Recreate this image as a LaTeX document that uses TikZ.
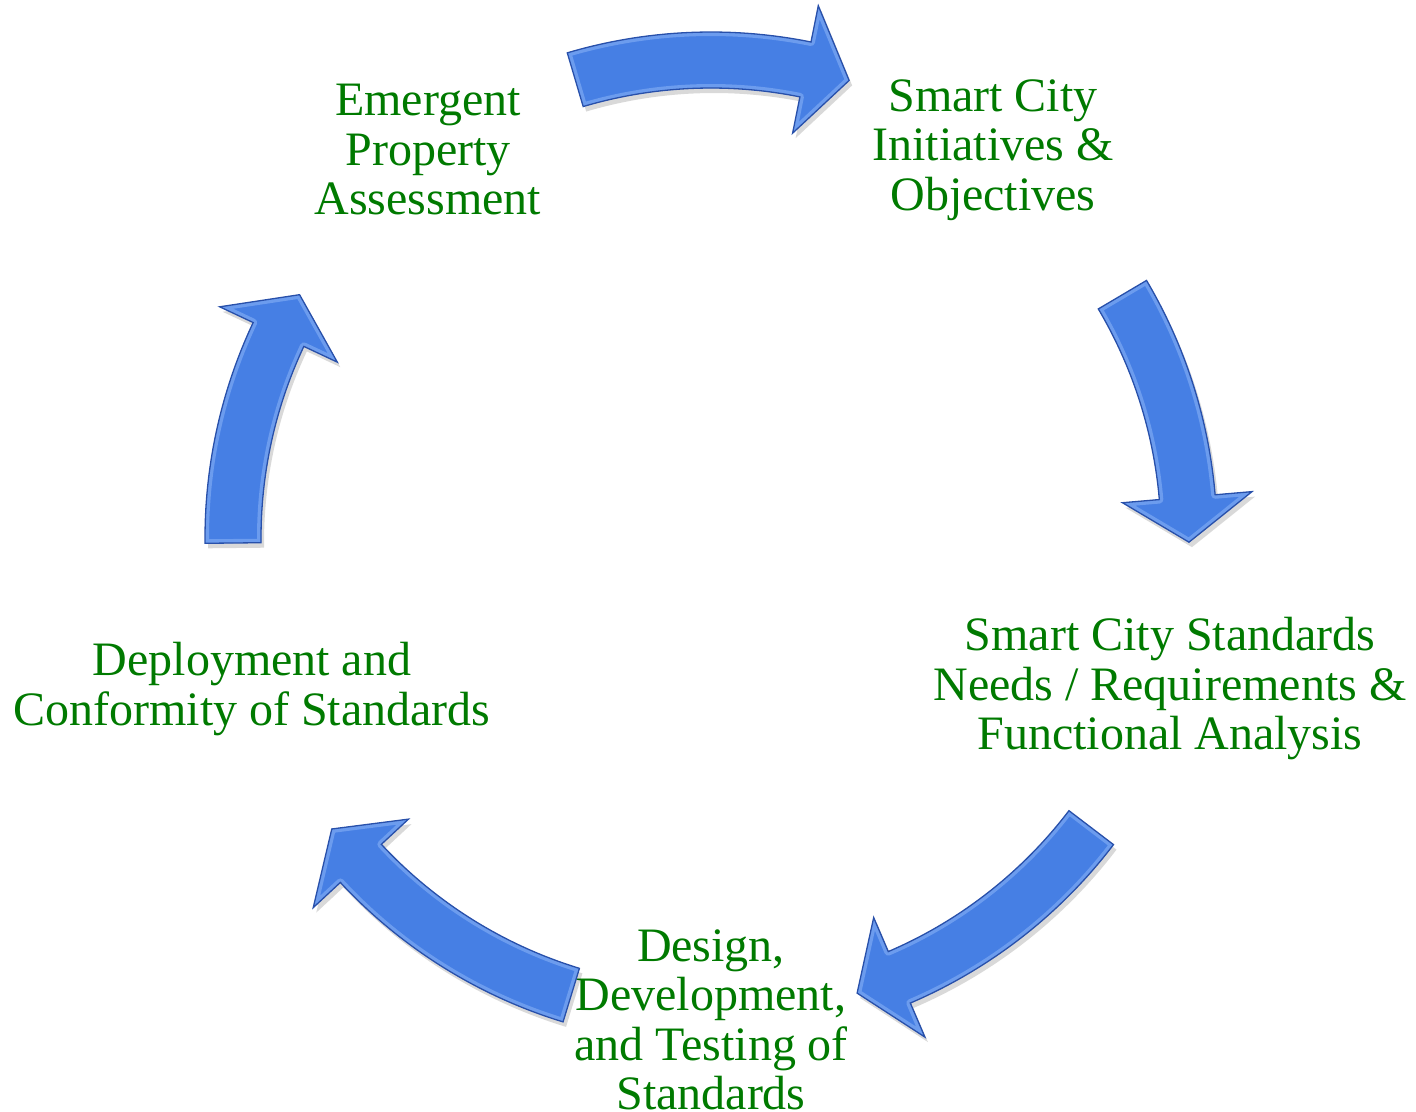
\documentclass[tikz,border=0pt]{standalone}
\usepackage{fontspec}
\setmainfont{Liberation Serif}
\definecolor{txtgreen}{RGB}{0,122,0}
\definecolor{arrfill}{RGB}{70,127,228}
\definecolor{arrdark}{RGB}{40,80,170}
\definecolor{arrlight}{RGB}{108,156,238}
\newcommand\cyclearrow[2]{% tail angle, tip angle (clockwise)
  \pgfmathsetmacro\ha{#2+5.4}
  \def\arrowpath{(#1:506pt) arc[start angle=#1, end angle=\ha, radius=506pt] -- (\ha:543pt) -- (#2:478pt) -- (\ha:413pt) -- (\ha:450pt) arc[start angle=\ha, end angle=#1, radius=450pt] -- cycle}
  \fill[black, opacity=0.15, shift={(3pt,-5pt)}] \arrowpath;
  \fill[arrfill] \arrowpath;
  \begin{scope}
    \clip \arrowpath;
    \draw[arrlight, line width=8pt, line join=round] \arrowpath;
  \end{scope}
  \draw[arrdark, line width=1.3pt, line join=miter] \arrowpath;
}
\tikzset{
  label text/.style={text=txtgreen, align=center, font=\fontsize{48}{49.5}\selectfont, inner sep=0pt}
}
\begin{document}
\begin{tikzpicture}[x=1pt,y=1pt]
\useasboundingbox (-711,-573) rectangle (705,538);
\node[label text] (emergent) at (-283,388) {Emergent\\Property\\Assessment};
\node[label text] (initiatives) at (282,388) {Smart City\\Initiatives \&\\Objectives};
\node[label text] (needs) at (459,-151) {Smart City Standards\\Needs / Requirements \&\\Functional Analysis};
\node[label text] (design) at (0,-482) {Design,\\Development,\\and Testing of\\Standards};
\node[label text] (deploy) at (-459,-151) {Deployment and\\Conformity of Standards};
\cyclearrow{106.5}{73.2}
\cyclearrow{30.6}{-0.5}
\cyclearrow{-37.3}{-72.2}
\cyclearrow{-107}{-142.5}
\cyclearrow{180.6}{149.4}
\end{tikzpicture}
\end{document}
